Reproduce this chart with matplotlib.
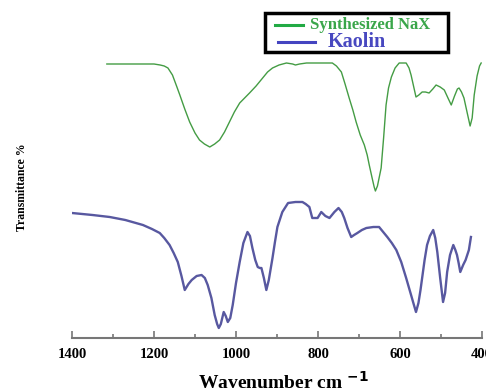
import numpy as np
import matplotlib
matplotlib.use("Agg")
import matplotlib.pyplot as plt
from matplotlib.ticker import MultipleLocator
from matplotlib.lines import Line2D
from matplotlib.patches import Rectangle

# FTIR spectra, transmittance in arbitrary units
nax_wn = [1315, 1250, 1200, 1185, 1175, 1166, 1155, 1145, 1137, 1125, 1113, 1100,
          1089, 1077, 1064, 1052, 1040, 1028, 1016, 1004, 991, 979, 967, 951, 935,
          923, 911, 895, 877, 862, 855, 845, 828, 800, 765, 755, 743, 734, 724, 715,
          707, 697, 687, 680, 675, 668, 663, 660, 655, 650, 646, 640, 634, 628, 621,
          612, 602, 593, 585, 578, 573, 567, 561, 554, 546, 538, 529, 520, 512, 502,
          492, 483, 475, 467, 460, 456, 450, 444, 436, 429, 424, 419, 412, 406, 402]
nax_t = [274, 274, 274, 273, 272, 270, 263, 252, 243, 229, 216, 205,
         198, 194, 191, 194, 198, 206, 216, 226, 235, 240, 245, 252, 260,
         266, 270, 273, 275, 274, 273, 274, 275, 275, 275, 272, 266, 254, 240, 228,
         216, 203, 193, 183, 173, 160, 151, 147, 152, 162, 170, 200, 233, 250, 261,
         270, 275, 275, 275, 270, 263, 252, 241, 243, 246, 246, 245, 249, 253, 251,
         248, 240, 233, 242, 249, 250, 246, 240, 225, 212, 220, 243, 262, 272, 275]

kao_wn = [1400, 1350, 1308, 1270, 1227, 1205, 1186, 1175, 1162, 1152, 1142, 1133,
          1125, 1116, 1108, 1096, 1084, 1076, 1069, 1060, 1052, 1046, 1042, 1037,
          1030, 1025, 1020, 1014, 1008, 1000, 991, 982, 972, 966, 960, 953, 947, 942,
          938, 932, 926, 920, 911, 905, 899, 887, 873, 855, 838, 830, 821, 814, 808,
          801, 792, 782, 772, 760, 750, 742, 736, 728, 719, 712, 704, 693, 682, 665,
          651, 641, 631, 620, 609, 597, 585, 573, 566, 561, 555, 550, 546, 540, 534,
          527, 519, 514, 509, 502, 495, 490, 485, 478, 470, 465, 461, 457, 453, 449,
          446, 440, 436, 432, 427]
kao_t = [125, 123, 121, 118, 113, 109, 105, 100, 93, 85, 76, 62,
         48, 54, 58, 62, 63, 60, 53, 40, 23, 14, 10, 14,
         26, 22, 16, 20, 33, 55, 76, 95, 106, 102, 90, 78, 71, 70,
         70, 60, 48, 58, 80, 96, 111, 126, 135, 136, 136, 134, 131, 120, 120,
         120, 126, 122, 120, 126, 130, 126, 120, 110, 101, 103, 105, 108, 110, 111,
         111, 106, 101, 95, 88, 76, 60, 43, 33, 26, 35, 48, 60, 78, 93,
         102, 108, 100, 86, 60, 36, 45, 66, 83, 93, 88, 83, 75, 66, 70,
         73, 78, 83, 88, 101]

serif = ["Liberation Serif", "DejaVu Serif"]
W, H = 486, 392

fig = plt.figure(figsize=(W / 100, H / 100), dpi=100)
ax = fig.add_axes([72 / W, 54 / H, 410 / W, 338 / H])

ax.plot(nax_wn, nax_t, color="#449c44", lw=1.0)
ax.plot(kao_wn, kao_t, color="#5858a0", lw=1.7)

ax.set_xlim(1400, 400)
ax.set_ylim(0, 338)
for s in ["top", "left", "right"]:
    ax.spines[s].set_visible(False)
ax.spines["bottom"].set_color("#777777")
ax.spines["bottom"].set_linewidth(1.5)
ax.set_yticks([])
ax.xaxis.set_major_locator(MultipleLocator(200))
ax.xaxis.set_minor_locator(MultipleLocator(100))
ax.tick_params(axis="x", which="major", direction="in", length=5, width=1.2,
               color="#777777", pad=7)
ax.tick_params(axis="x", which="minor", direction="in", length=3, width=1.2,
               color="#777777")
for lbl in ax.get_xticklabels():
    lbl.set_fontfamily(serif)
    lbl.set_fontweight("bold")
    lbl.set_fontsize(10.5)

fig.text(283 / W, 1 - 389 / H, "Wavenumber cm $^{\\mathbf{-1}}$", family=serif,
         fontweight="bold", fontsize=14, ha="center", va="baseline")
fig.text(22 / W, 1 - 187 / H, "Transmittance %", rotation=90, family=serif,
         fontweight="bold", fontsize=8.5, ha="center", va="center")

# legend box drawn by hand (line lengths differ in the original)
fig.patches.append(Rectangle((265 / W, 1 - 52 / H), 183 / W, 39 / H,
                             transform=fig.transFigure, fill=True, fc="white",
                             ec="black", lw=2.5))
fig.lines.append(Line2D([275 / W, 303 / W], [1 - 25 / H, 1 - 25 / H],
                        transform=fig.transFigure, color="#22aa44", lw=2.2))
fig.lines.append(Line2D([278 / W, 315 / W], [1 - 42 / H, 1 - 42 / H],
                        transform=fig.transFigure, color="#4444c0", lw=2.2))
fig.text(310 / W, 1 - 25 / H, "Synthesized NaX", family=serif, fontweight="bold",
         fontsize=12, color="#3aa64a", ha="left", va="center")
fig.text(328 / W, 1 - 42 / H, "Kaolin", family=serif, fontweight="bold",
         fontsize=14.5, color="#4848c0", ha="left", va="center")

fig.savefig("out.png", dpi=100)
